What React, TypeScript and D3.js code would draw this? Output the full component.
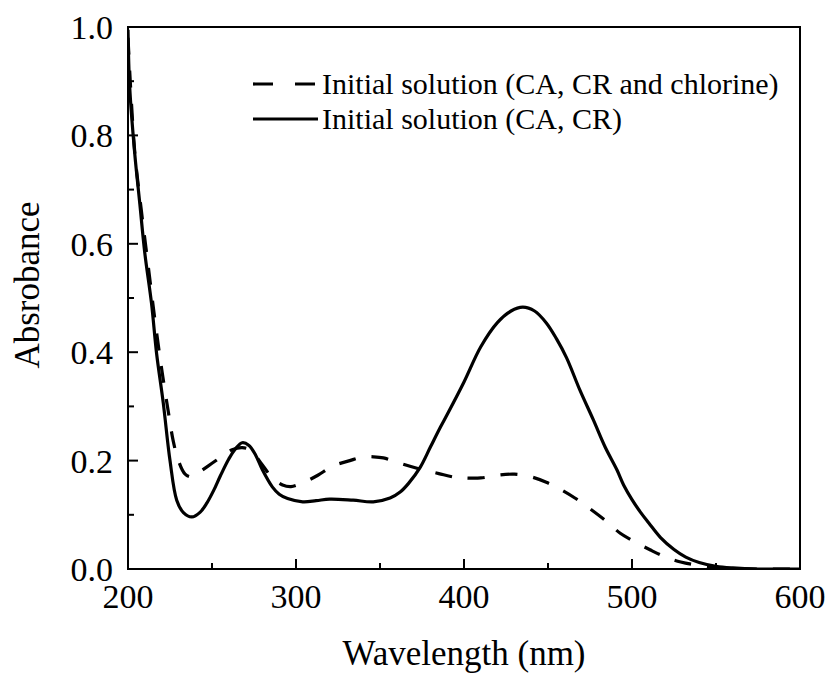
import React from "react";
import * as d3 from "d3";

const wlSolid = [200,201,204,207,210,214,217,221,225,229,233,238,243,247,251,255,260,264,268,272,276,280,286,290,295,304,312,320,334,346,356,362,367,374,380,386,390,400,410,420,428,435,442,449,455,461,469,477,484,491,495,500,505,510,517,525,532,540,550,560,575,600];
const absSolid = [0.995,0.89,0.767,0.675,0.583,0.49,0.398,0.306,0.2,0.127,0.104,0.096,0.105,0.122,0.145,0.172,0.203,0.222,0.233,0.228,0.21,0.183,0.151,0.138,0.13,0.124,0.126,0.129,0.127,0.124,0.131,0.142,0.158,0.188,0.225,0.262,0.285,0.345,0.41,0.455,0.476,0.483,0.476,0.454,0.425,0.39,0.33,0.275,0.225,0.183,0.155,0.128,0.105,0.085,0.058,0.036,0.022,0.012,0.005,0.002,0.0,0.0];

const wlDashed = [200,204,208,212,216,220,224,227,230,234,238,243,250,257,262,268,273,279,286,292,297,304,313,322,332,340,346,352,360,372,385,395,400,410,420,430,440,449,458,466,476,484,493,500,511,520,529,539,550,560,575,600];
const absDashed = [0.98,0.77,0.66,0.56,0.46,0.37,0.29,0.235,0.2,0.175,0.17,0.18,0.195,0.21,0.22,0.224,0.219,0.196,0.168,0.155,0.152,0.159,0.173,0.19,0.2,0.207,0.207,0.205,0.197,0.186,0.176,0.169,0.168,0.168,0.173,0.175,0.17,0.16,0.146,0.131,0.109,0.09,0.066,0.053,0.035,0.022,0.013,0.007,0.003,0.001,0,0];

const xTicks = [200, 300, 400, 500, 600];
const xMinor = [250, 350, 450, 550];
const yTicks = [0.0, 0.2, 0.4, 0.6, 0.8, 1.0];
const yMinor = [0.1, 0.3, 0.5, 0.7, 0.9];
const legendLabels = ["Initial solution (CA, CR and chlorine)", "Initial solution (CA, CR)"];

const W = 831, H = 675;
const left = 128, right = 800, top = 27, bottom = 569;
const font = "'Liberation Serif', 'Times New Roman', serif";

export default function App() {
  const x = d3.scaleLinear().domain([200, 600]).range([left, right]);
  const y = d3.scaleLinear().domain([0, 1]).range([bottom, top]);
  const line = d3.line<[number, number]>()
    .x(d => x(d[0]))
    .y(d => y(d[1]))
    .curve(d3.curveCatmullRom.alpha(0.5));
  const solid = wlSolid.map((w, i) => [w, absSolid[i]] as [number, number]);
  const dashed = wlDashed.map((w, i) => [w, absDashed[i]] as [number, number]);

  return (
    <svg width={W} height={H} style={{ position: "absolute", left: 0, top: 0, background: "#fff" }} fontFamily={font}>
      <rect x={0} y={0} width={W} height={H} fill="#fff" />
      <defs>
        <clipPath id="plot">
          <rect x={left} y={top - 5} width={right - left} height={bottom - top + 5} />
        </clipPath>
      </defs>
      <g clipPath="url(#plot)">
        <path d={line(dashed) || ""} fill="none" stroke="#000" strokeWidth={3.2} strokeDasharray="17,16" />
        <path d={line(solid) || ""} fill="none" stroke="#000" strokeWidth={3.2} />
      </g>
      {/* frame */}
      <rect x={left} y={top} width={right - left} height={bottom - top} fill="none" stroke="#000" strokeWidth={2} />
      {/* x ticks */}
      {xTicks.map(t => (
        <g key={"xt" + t}>
          <line x1={x(t)} x2={x(t)} y1={bottom} y2={bottom - 10} stroke="#000" strokeWidth={2} />
          <text x={x(t)} y={608} fontSize={34} textAnchor="middle">{t}</text>
        </g>
      ))}
      {xMinor.map(t => (
        <line key={"xm" + t} x1={x(t)} x2={x(t)} y1={bottom} y2={bottom - 6} stroke="#000" strokeWidth={2} />
      ))}
      {yTicks.map(t => (
        <g key={"yt" + t}>
          <line x1={left} x2={left + 10} y1={y(t)} y2={y(t)} stroke="#000" strokeWidth={2} />
          <text x={113} y={y(t) + 12} fontSize={34} textAnchor="end">{t.toFixed(1)}</text>
        </g>
      ))}
      {yMinor.map(t => (
        <line key={"ym" + t} x1={left} x2={left + 6} y1={y(t)} y2={y(t)} stroke="#000" strokeWidth={2} />
      ))}
      {/* axis titles */}
      <text x={464} y={665} fontSize={35} textAnchor="middle">Wavelength (nm)</text>
      <text transform="translate(39,285) rotate(-90)" fontSize={35} textAnchor="middle">Absrobance</text>
      {/* legend */}
      <line x1={253} x2={317} y1={84} y2={84} stroke="#000" strokeWidth={3.2} strokeDasharray="20,22" />
      <text x={322} y={94} fontSize={30}>{legendLabels[0]}</text>
      <line x1={253} x2={318} y1={119} y2={119} stroke="#000" strokeWidth={3.2} />
      <text x={322} y={129} fontSize={30}>{legendLabels[1]}</text>
    </svg>
  );
}
